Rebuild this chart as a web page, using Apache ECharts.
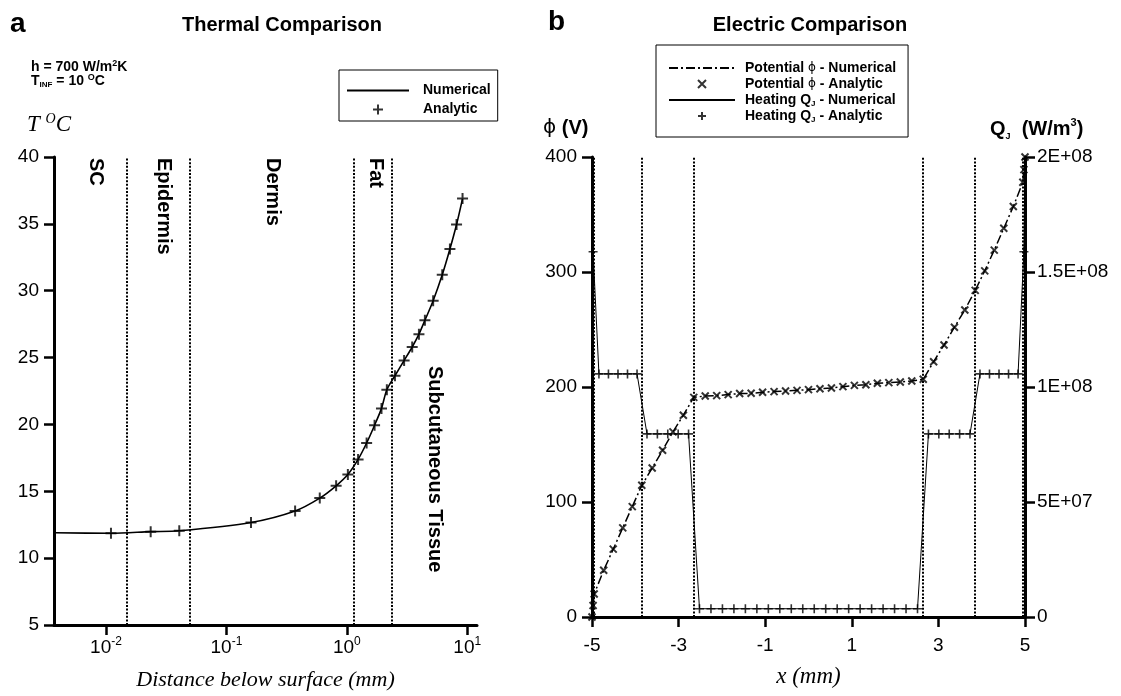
<!DOCTYPE html>
<html><head><meta charset="utf-8">
<script src="https://cdn.jsdelivr.net/npm/echarts@6/dist/echarts.min.js"></script>
<style>html,body{margin:0;padding:0;background:#fff}#c{width:1121px;height:696px}</style>
</head><body><div id="c"></div>
<script>
// ---------- Panel a : thermal ----------
const thermalDepthAnalytic = [0.011, 0.0235, 0.0406, 0.160, 0.372, 0.596, 0.815, 1.02, 1.24, 1.46, 1.70, 1.94, 2.15, 2.51, 2.99, 3.49, 3.97, 4.45, 5.21, 6.20, 7.18, 8.15, 9.14];
const thermalTempAnalytic  = [11.86, 11.98, 12.05, 12.67, 13.53, 14.49, 15.41, 16.25, 17.38, 18.61, 19.94, 21.2, 22.59, 23.64, 24.78, 25.79, 26.75, 27.79, 29.25, 31.19, 33.12, 34.95, 36.89];
const thermalDepthNumerical = [0.0037, 0.011, 0.0235, 0.0406, 0.160, 0.372, 0.596, 0.815, 1.02, 1.24, 1.46, 1.70, 1.94, 2.15, 2.51, 2.99, 3.49, 3.97, 4.45, 5.21, 6.20, 7.18, 8.15, 9.14];
const thermalTempNumerical  = [11.9, 11.86, 11.98, 12.05, 12.67, 13.53, 14.49, 15.41, 16.25, 17.38, 18.61, 19.94, 21.2, 22.59, 23.64, 24.78, 25.79, 26.75, 27.79, 29.25, 31.19, 33.12, 34.95, 36.89];
const thermalBoundaries = [0.015, 0.05, 1.15, 2.35];
const thermalXTicks = [0.01, 0.1, 1, 10];
const thermalLayers = ['SC', 'Epidermis', 'Dermis', 'Fat', 'Subcutaneous Tissue'];

// ---------- Panel b : electric ----------
const potentialX = [-5, -4.975, -4.95, -4.73, -4.51, -4.29, -4.07, -3.85, -3.61, -3.37, -3.13, -2.89, -2.65,
  -2.385, -2.12, -1.855, -1.59, -1.325, -1.06, -0.795, -0.53, -0.265, 0, 0.265, 0.53, 0.795, 1.06, 1.325, 1.59, 1.855, 2.12, 2.385, 2.65,
  2.89, 3.13, 3.37, 3.61, 3.85, 4.07, 4.29, 4.51, 4.73, 4.95, 4.975, 5];
const potentialV = [0, 10, 20, 40.6, 59, 77.5, 96, 114.5, 129.5, 145, 161, 175.5, 191,
  192.2, 192.5, 193.4, 194.3, 194.5, 195.4, 196, 196.5, 197.1, 197.7, 198.5, 199.1, 200.3, 201.4, 202, 203.2, 203.8, 204.3, 205.2, 206.7,
  222, 236.5, 252, 267, 284, 301, 319, 338, 357, 378, 389, 400];
const heatingXAnalytic = [-4.975, -4.84, -4.62, -4.40, -4.18, -3.96, -3.73, -3.49, -3.25, -3.01, -2.77,
  -2.5175, -2.2525, -1.9875, -1.7225, -1.4575, -1.1925, -0.9275, -0.6625, -0.3975, -0.1325, 0.1325, 0.3975, 0.6625, 0.9275, 1.1925, 1.4575, 1.7225, 1.9875, 2.2525, 2.5175,
  2.77, 3.01, 3.25, 3.49, 3.73, 3.96, 4.18, 4.40, 4.62, 4.84, 4.975];
const heatingQAnalytic = [1.588e8, 1.057e8, 1.057e8, 1.057e8, 1.057e8, 1.057e8, 7.96e7, 7.96e7, 7.96e7, 7.96e7, 7.96e7,
  3.6e6, 3.6e6, 3.6e6, 3.6e6, 3.6e6, 3.6e6, 3.6e6, 3.6e6, 3.6e6, 3.6e6, 3.6e6, 3.6e6, 3.6e6, 3.6e6, 3.6e6, 3.6e6, 3.6e6, 3.6e6, 3.6e6, 3.6e6,
  7.96e7, 7.96e7, 7.96e7, 7.96e7, 7.96e7, 1.057e8, 1.057e8, 1.057e8, 1.057e8, 1.057e8, 1.588e8];
const heatingXNumerical = [-5, -4.975, -4.84, -4.62, -4.40, -4.18, -3.96, -3.73, -3.49, -3.25, -3.01, -2.77,
  -2.5175, -2.2525, -1.9875, -1.7225, -1.4575, -1.1925, -0.9275, -0.6625, -0.3975, -0.1325, 0.1325, 0.3975, 0.6625, 0.9275, 1.1925, 1.4575, 1.7225, 1.9875, 2.2525, 2.5175,
  2.77, 3.01, 3.25, 3.49, 3.73, 3.96, 4.18, 4.40, 4.62, 4.84, 4.975, 5];
const heatingQNumerical = [2.0e8, 1.588e8, 1.057e8, 1.057e8, 1.057e8, 1.057e8, 1.057e8, 7.96e7, 7.96e7, 7.96e7, 7.96e7, 7.96e7,
  3.6e6, 3.6e6, 3.6e6, 3.6e6, 3.6e6, 3.6e6, 3.6e6, 3.6e6, 3.6e6, 3.6e6, 3.6e6, 3.6e6, 3.6e6, 3.6e6, 3.6e6, 3.6e6, 3.6e6, 3.6e6, 3.6e6, 3.6e6,
  7.96e7, 7.96e7, 7.96e7, 7.96e7, 7.96e7, 1.057e8, 1.057e8, 1.057e8, 1.057e8, 1.057e8, 1.588e8, 2.0e8];
const electricBoundaries = [-4.95, -3.85, -2.65, 2.65, 3.85, 4.95];
const electricSeriesNames = ['Potential ϕ - Numerical', 'Potential ϕ - Analytic', 'Heating QJ - Numerical', 'Heating QJ - Analytic'];

// ---------- helpers ----------
const zip = (a, b) => a.map((v, i) => [v, b[i]]);
const SANS = '"Liberation Sans", Arial, Helvetica, sans-serif';
const SERIF = '"Liberation Serif", "Times New Roman", serif';
const PHI = '"DejaVu Sans", "Liberation Sans", sans-serif';
const PLUS = 'path://M5,0L5,10M0,5L10,5';
const CROSS = 'path://M0,0L10,10M10,0L0,10';
const axisLine = {show: true, onZero: false, lineStyle: {color: '#000', width: 3}};
const axisTick = {show: true, inside: false, length: 10, lineStyle: {color: '#000', width: 2.5}};
const dotted = {color: '#000', width: 2, type: [2, 1.6]};
const markLines = vals => ({silent: true, precision: 6, symbol: ['none', 'none'], label: {show: false}, lineStyle: dotted,
  data: vals.map(v => ({xAxis: v}))});
const hiddenSymbol = {color: 'rgba(0,0,0,0)', borderWidth: 0, opacity: 0};

const chart = echarts.init(document.getElementById('c'));
const option = {
  animation: false,
  backgroundColor: '#fff',
  title: [
    {text: 'Thermal Comparison', left: 277, top: 10, textAlign: 'center', textStyle: {fontFamily: SANS, fontWeight: 'bold', fontSize: 20, color: '#000'}},
    {text: 'Electric Comparison', left: 805, top: 10, textAlign: 'center', textStyle: {fontFamily: SANS, fontWeight: 'bold', fontSize: 20, color: '#000'}}
  ],
  grid: [
    {left: 54, top: 157, width: 423, height: 473},
    {left: 592, top: 157, width: 433, height: 460}
  ],
  legend: [
    {data: [{name: 'Numerical', itemStyle: hiddenSymbol}, {name: 'Analytic'}], orient: 'vertical', left: 339, top: 70, selectedMode: false,
     borderColor: '#000', borderWidth: 1, padding: [12, 7, 3, 7], itemWidth: 62, itemHeight: 10, itemGap: 2,
     textStyle: {fontFamily: SANS, fontWeight: 'bold', fontSize: 14, color: '#000', lineHeight: 17, padding: [0, 0, 0, 9]}},
    {data: [{name: electricSeriesNames[0], itemStyle: hiddenSymbol}, {name: electricSeriesNames[1]},
            {name: electricSeriesNames[2], itemStyle: hiddenSymbol}, {name: electricSeriesNames[3]}],
     orient: 'vertical', left: 656, top: 45, selectedMode: false,
     borderColor: '#000', borderWidth: 1, padding: [15, 12, 13, 12], itemWidth: 66, itemHeight: 8, itemGap: 0,
     formatter: n => {
       if (n.indexOf('Potential') === 0) return '{b|Potential }{p|ϕ}{b|' + n.slice(11) + '}';
       return '{b|Heating Q}{s|J}{b|' + n.slice(10) + '}';
     },
     textStyle: {fontFamily: SANS, fontWeight: 'bold', fontSize: 14, color: '#000', lineHeight: 16, padding: [0, 0, 0, 5],
       rich: {b: {fontFamily: SANS, fontWeight: 'bold', fontSize: 14, color: '#000', lineHeight: 16},
              p: {fontFamily: PHI, fontWeight: 'normal', fontSize: 12, color: '#000', lineHeight: 16},
              s: {fontFamily: SANS, fontWeight: 'bold', fontSize: 8, color: '#000', lineHeight: 12, verticalAlign: 'bottom'}}}}
  ],
  xAxis: [
    {type: 'log', gridIndex: 0, logBase: 10, min: 0.0037, max: 12.05,
     axisLine: axisLine, axisTick: Object.assign({customValues: thermalXTicks}, axisTick), splitLine: {show: false},
     axisLabel: {customValues: thermalXTicks, margin: 11, color: '#000',
       formatter: v => { const e = Math.log10(v); if (Math.abs(e - Math.round(e)) > 1e-6) return ''; return '{b|10}{s|' + Math.round(e) + '}'; },
       rich: {b: {fontFamily: SANS, fontSize: 19, color: '#000', lineHeight: 24},
              s: {fontFamily: SANS, fontSize: 12, color: '#000', lineHeight: 12, verticalAlign: 'top'}}},
     name: 'Distance below surface (mm)', nameLocation: 'middle', nameGap: 44,
     nameTextStyle: {fontFamily: SERIF, fontStyle: 'italic', fontSize: 22, color: '#000'}},
    {type: 'value', gridIndex: 1, min: -5, max: 5, interval: 2,
     axisLine: axisLine, axisTick: axisTick, splitLine: {show: false},
     axisLabel: {margin: 19, color: '#000', fontFamily: SANS, fontSize: 19},
     name: 'x (mm)', nameLocation: 'middle', nameGap: 48,
     nameTextStyle: {fontFamily: SERIF, fontStyle: 'italic', fontSize: 23, color: '#000'}}
  ],
  yAxis: [
    {type: 'value', gridIndex: 0, min: 5, max: 40, interval: 5,
     axisLine: axisLine, axisTick: axisTick, splitLine: {show: false},
     axisLabel: {margin: 15, color: '#000', fontFamily: SANS, fontSize: 19}},
    {type: 'value', gridIndex: 1, position: 'left', min: 0, max: 400, interval: 100,
     axisLine: axisLine, axisTick: axisTick, splitLine: {show: false},
     axisLabel: {margin: 15, color: '#000', fontFamily: SANS, fontSize: 19}},
    {type: 'value', gridIndex: 1, position: 'right', min: 0, max: 2e8, interval: 5e7,
     axisLine: axisLine, axisTick: axisTick, splitLine: {show: false},
     axisLabel: {margin: 12, color: '#000', fontFamily: SANS, fontSize: 19,
       formatter: v => { if (v === 0) return '0'; const e = Math.floor(Math.log10(v) + 1e-9); const m = +(v / Math.pow(10, e)).toFixed(2); return m + 'E+' + (e < 10 ? '0' + e : e); }}}
  ],
  series: [
    {name: 'Numerical', type: 'line', xAxisIndex: 0, yAxisIndex: 0, data: zip(thermalDepthNumerical, thermalTempNumerical),
     smooth: 0.3, symbol: 'none', lineStyle: {color: '#000', width: 1.6}, itemStyle: {color: '#000'},
     markLine: markLines(thermalBoundaries), z: 3},
    {name: 'Analytic', type: 'scatter', xAxisIndex: 0, yAxisIndex: 0, data: zip(thermalDepthAnalytic, thermalTempAnalytic),
     symbol: PLUS, symbolSize: 11, itemStyle: {color: 'rgba(0,0,0,0)', borderColor: '#000', borderWidth: 2}, z: 4},
    {name: electricSeriesNames[0], type: 'line', xAxisIndex: 1, yAxisIndex: 1, data: zip(potentialX, potentialV),
     symbol: 'none', lineStyle: {color: '#000', width: 1.5, type: [9, 3, 2, 3]}, itemStyle: {color: '#000'},
     markLine: markLines(electricBoundaries), z: 3},
    {name: electricSeriesNames[1], type: 'scatter', xAxisIndex: 1, yAxisIndex: 1, data: zip(potentialX, potentialV),
     symbol: CROSS, symbolSize: 7, itemStyle: {color: 'rgba(0,0,0,0)', borderColor: '#000', borderWidth: 2}, z: 4},
    {name: electricSeriesNames[2], type: 'line', xAxisIndex: 1, yAxisIndex: 2, data: zip(heatingXNumerical, heatingQNumerical),
     symbol: 'none', lineStyle: {color: '#000', width: 1}, itemStyle: {color: '#000'}, z: 3},
    {name: electricSeriesNames[3], type: 'scatter', xAxisIndex: 1, yAxisIndex: 2, data: zip(heatingXAnalytic, heatingQAnalytic),
     symbol: PLUS, symbolSize: 9, itemStyle: {color: 'rgba(0,0,0,0)', borderColor: '#000', borderWidth: 1.6}, z: 4}
  ],
  graphic: [
    {type: 'text', left: 10, top: 10, style: {text: 'a', font: 'bold 28px ' + SANS, fill: '#000'}},
    {type: 'text', left: 548, top: 8, style: {text: 'b', font: 'bold 28px ' + SANS, fill: '#000'}},
    {type: 'text', left: 31, top: 59, style: {text: '{b|h = 700 W/m}{p|2}{b|K}', fill: '#000',
      rich: {b: {font: 'bold 14px ' + SANS, lineHeight: 16}, p: {font: 'bold 9px ' + SANS, lineHeight: 10, verticalAlign: 'top'}}}},
    {type: 'text', left: 31, top: 73, style: {text: '{b|T}{s|INF}{b| = 10 }{p|O}{b|C}', fill: '#000',
      rich: {b: {font: 'bold 14px ' + SANS, lineHeight: 16}, s: {font: 'bold 8px ' + SANS, lineHeight: 9, verticalAlign: 'bottom'},
             p: {font: 'bold 9px ' + SANS, lineHeight: 10, verticalAlign: 'top'}}}},
    {type: 'text', left: 27, top: 112, style: {text: '{i|T }{p|O}{i|C}', fill: '#000',
      rich: {i: {font: 'italic 23px ' + SERIF, lineHeight: 26}, p: {font: 'italic 14px ' + SERIF, lineHeight: 14, verticalAlign: 'top'}}}},
    {type: 'text', left: 543, top: 118, style: {text: '{p|ϕ}{b| (V)}', fill: '#000',
      rich: {p: {font: 'normal 20px ' + PHI, lineHeight: 24}, b: {font: 'bold 20px ' + SANS, lineHeight: 24}}}},
    {type: 'text', left: 990, top: 117, style: {text: '{b|Q}{s|J}{b|  (W/m}{p|3}{b|)}', fill: '#000',
      rich: {b: {font: 'bold 20px ' + SANS, lineHeight: 24}, s: {font: 'bold 9px ' + SANS, lineHeight: 10, verticalAlign: 'bottom'},
             p: {font: 'bold 11px ' + SANS, lineHeight: 12, verticalAlign: 'top'}}}},
    {type: 'text', x: 95.5, y: 158, rotation: -Math.PI / 2, style: {text: thermalLayers[0], font: 'bold 20px ' + SANS, fill: '#000', align: 'left', verticalAlign: 'middle'}},
    {type: 'text', x: 163.5, y: 158, rotation: -Math.PI / 2, style: {text: thermalLayers[1], font: 'bold 20px ' + SANS, fill: '#000', align: 'left', verticalAlign: 'middle'}},
    {type: 'text', x: 273, y: 158, rotation: -Math.PI / 2, style: {text: thermalLayers[2], font: 'bold 20px ' + SANS, fill: '#000', align: 'left', verticalAlign: 'middle'}},
    {type: 'text', x: 375.5, y: 158, rotation: -Math.PI / 2, style: {text: thermalLayers[3], font: 'bold 20px ' + SANS, fill: '#000', align: 'left', verticalAlign: 'middle'}},
    {type: 'text', x: 435, y: 366, rotation: -Math.PI / 2, style: {text: thermalLayers[4], font: 'bold 20px ' + SANS, fill: '#000', align: 'left', verticalAlign: 'middle'}}
  ]
};
chart.setOption(option);
</script>
</body></html>
